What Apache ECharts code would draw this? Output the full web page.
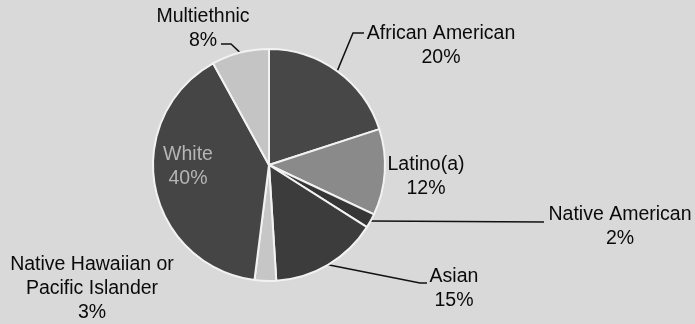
<!DOCTYPE html>
<html>
<head>
<meta charset="utf-8">
<script src="https://cdn.jsdelivr.net/npm/echarts@6/dist/echarts.min.js"></script>
<style>html,body{margin:0;padding:0;background:#d9d9d9;}#c{width:695px;height:324px;}</style>
</head>
<body>
<div id="c"></div>
<script>
const categories = ['African American', 'Latino(a)', 'Native American', 'Asian', 'Native Hawaiian or\nPacific Islander', 'White', 'Multiethnic'];
const percents = [20, 12, 2, 15, 3, 40, 8];
const sliceColors = ['#474747', '#8a8a8a', '#363636', '#3c3c3c', '#c6c6c6', '#454545', '#c4c4c4'];

// label placement (text centre x, box top y), leader line path after the pie edge point
const labelSpots = [
  { x: 441, y: 22, line: [[353, 33], [364, 33]] },
  { x: 426, y: 153, line: null },
  { x: 620, y: 203, line: [[544, 222]] },
  { x: 454, y: 265, line: [[420, 283], [427, 283]] },
  { x: 92, y: 253, line: null },
  { x: 188, y: 143, line: null },
  { x: 203, y: 5, line: [[231, 44], [221, 44]] }
];

const chart = echarts.init(document.getElementById('c'), null, { renderer: 'canvas' });
const data = categories.map((name, i) => ({
  name: name,
  value: percents[i],
  itemStyle: { color: sliceColors[i] },
  label: name === 'White' ? { position: 'inside', color: '#b5b5b5' } : undefined,
  labelLine: { show: !!labelSpots[i].line }
}));

chart.setOption({
  backgroundColor: '#d9d9d9',
  animation: false,
  series: [{
    type: 'pie',
    center: [269, 165],
    radius: 116,
    startAngle: 90,
    clockwise: true,
    data: data,
    itemStyle: { borderColor: '#f2f2f2', borderWidth: 2 },
    label: {
      show: true,
      position: 'outside',
      formatter: '{b}\n{c}%',
      fontFamily: 'Liberation Sans, Arial, sans-serif',
      fontSize: 19.5,
      lineHeight: 24,
      color: '#0a0a0a',
      align: 'center'
    },
    labelLine: { show: true, lineStyle: { color: '#111', width: 1.5 } },
    labelLayout: function (p) {
      const s = labelSpots[p.dataIndex];
      const out = { x: s.x, y: s.y, align: 'center', verticalAlign: 'top', hideOverlap: false, moveOverlap: null };
      if (s.line && p.labelLinePoints && p.labelLinePoints.length) {
        out.labelLinePoints = [p.labelLinePoints[0]].concat(s.line);
      }
      return out;
    }
  }]
});
</script>
</body>
</html>
